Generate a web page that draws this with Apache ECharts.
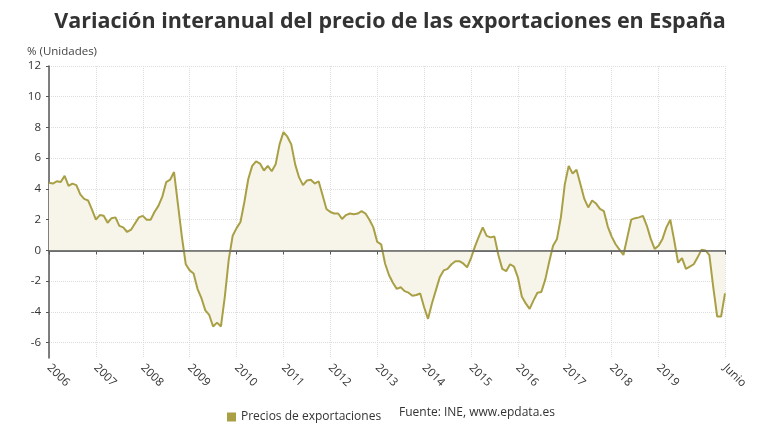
<!DOCTYPE html>
<html>
<head>
<meta charset="utf-8">
<script src="https://cdn.jsdelivr.net/npm/echarts@6/dist/echarts.min.js"></script>
<style>
  html, body { margin: 0; padding: 0; background: #fff; }
  #chart { width: 780px; height: 440px; }
</style>
</head>
<body>
<div id="chart"></div>
<script>
  // meses desde enero 2006 hasta junio 2020
  const firstYear = 2006;
  const lastLabel = 'Junio';
  const yTicks = [-6, -4, -2, 0, 2, 4, 6, 8, 10, 12];

  // variación interanual (%)
  const precios = [
    4.4, 4.35, 4.5, 4.45, 4.85, 4.2, 4.35, 4.25, 3.65, 3.35, 3.25, 2.65,
    2.0, 2.3, 2.25, 1.8, 2.1, 2.15, 1.6, 1.5, 1.2, 1.35, 1.75, 2.15,
    2.25, 2.0, 2.0, 2.5, 2.9, 3.5, 4.45, 4.6, 5.1, 3.0, 0.9, -0.9,
    -1.3, -1.5, -2.5, -3.1, -3.9, -4.2, -4.95, -4.7, -4.95, -3.0, -0.6, 0.95,
    1.45, 1.85, 3.15, 4.65, 5.5, 5.8, 5.65, 5.2, 5.5, 5.15, 5.6, 6.9,
    7.7, 7.4, 6.9, 5.6, 4.75, 4.25, 4.55, 4.6, 4.35, 4.5, 3.6, 2.7,
    2.5, 2.4, 2.4, 2.05, 2.3, 2.4, 2.35, 2.4, 2.55, 2.4, 2.0, 1.5,
    0.55, 0.4, -0.85, -1.6, -2.1, -2.5, -2.4, -2.65, -2.75, -2.95, -2.9, -2.8,
    -3.7, -4.45, -3.45, -2.6, -1.75, -1.3, -1.2, -0.9, -0.7, -0.7, -0.85, -1.1,
    -0.5, 0.25, 0.9, 1.5, 0.95, 0.85, 0.9, -0.3, -1.2, -1.35, -0.9, -1.05,
    -1.75, -3.0, -3.45, -3.8, -3.25, -2.75, -2.7, -1.9, -0.75, 0.3, 0.75, 2.15,
    4.3, 5.5, 5.0, 5.25, 4.3, 3.35, 2.8, 3.25, 3.05, 2.7, 2.55, 1.55,
    0.9, 0.4, 0.05, -0.3, 0.85, 2.0, 2.1, 2.15, 2.25, 1.6, 0.75, 0.1,
    0.3, 0.75, 1.5, 2.0, 0.65, -0.8, -0.5, -1.2, -1.05, -0.9, -0.45, 0.05,
    0.0, -0.3, -2.4, -4.3, -4.3, -2.8
  ];

  const meses = precios.map((v, i) => {
    const y = firstYear + Math.floor(i / 12);
    const m = (i % 12) + 1;
    return y + '-' + (m < 10 ? '0' + m : m);
  });
  const lastIdx = meses.length - 1;
  // enero de cada año (menos el último, incompleto) y el mes final
  const showTick = (idx) => (idx % 12 === 0 && idx + 12 <= lastIdx) || idx === lastIdx;

  const myChart = echarts.init(document.getElementById('chart'));
  const option = {
    animation: false,
    textStyle: { fontFamily: 'Open Sans' },
    title: {
      text: 'Variación interanual del precio de las exportaciones en España',
      left: 'center',
      top: 6,
      textStyle: { fontSize: 21.5, fontWeight: 'bold', color: '#333', fontFamily: 'Open Sans' }
    },
    legend: {
      left: 222,
      top: 406,
      icon: 'rect',
      itemWidth: 9,
      itemHeight: 9,
      itemGap: 6,
      textStyle: { fontSize: 12, color: '#333' },
      data: ['Precios de exportaciones']
    },
    graphic: [{
      type: 'text',
      left: 399,
      top: 407,
      style: { text: 'Fuente: INE, www.epdata.es', fontSize: 12, fill: '#333', fontFamily: 'Open Sans' }
    }],
    grid: { left: 49, right: 55, top: 66, bottom: 82 },
    xAxis: {
      type: 'category',
      boundaryGap: false,
      data: meses,
      axisLine: { lineStyle: { color: '#555', width: 1.5 } },
      axisTick: { show: true, interval: (idx) => showTick(idx), length: 4, lineStyle: { color: '#555' } },
      axisLabel: {
        interval: (idx) => showTick(idx),
        rotate: -45,
        fontSize: 11.5,
        color: '#333',
        margin: 8,
        formatter: (val, idx) => idx === lastIdx ? lastLabel : val.slice(0, 4)
      },
      splitLine: { show: true, interval: (idx) => showTick(idx), lineStyle: { color: '#ddd', type: 'dotted' } }
    },
    yAxis: {
      type: 'value',
      min: -7,
      max: 12,
      name: '% (Unidades)',
      nameLocation: 'end',
      nameGap: 8,
      nameTextStyle: { fontSize: 11.5, color: '#444', align: 'left', padding: [0, 0, 0, -22] },
      axisLine: { show: true, lineStyle: { color: '#555', width: 1.5 } },
      axisTick: { show: true, length: 3, customValues: yTicks, lineStyle: { color: '#555' } },
      axisLabel: { fontSize: 11.5, color: '#333', margin: 8, customValues: yTicks },
      splitLine: { show: true, lineStyle: { color: '#ddd', type: 'dotted' } }
    },
    series: [{
      name: 'Precios de exportaciones',
      type: 'line',
      data: precios,
      symbol: 'none',
      color: '#a9a046',
      lineStyle: { width: 2, color: '#a9a046' },
      areaStyle: { color: '#f7f5ea', opacity: 1 },
      markLine: {
        silent: true,
        symbol: 'none',
        label: { show: false },
        lineStyle: { color: '#666', type: 'solid', width: 1.5 },
        data: [{ yAxis: 0 }]
      }
    }]
  };
  myChart.setOption(option);
</script>
</body>
</html>
